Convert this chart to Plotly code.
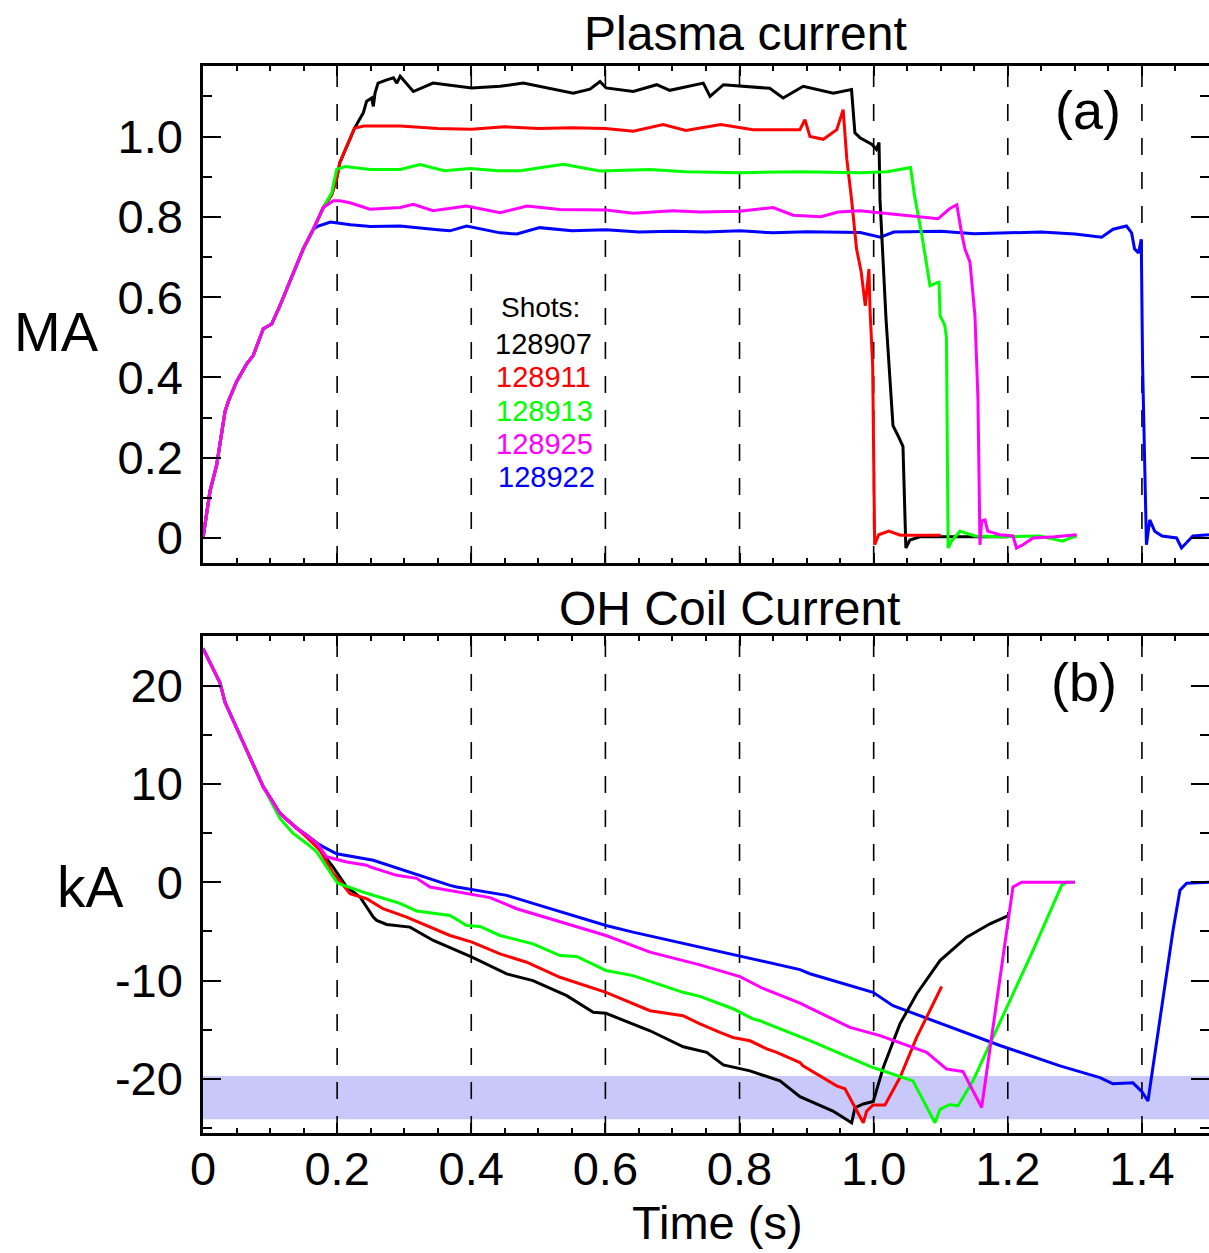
import plotly.graph_objects as go

# ---------------- DATA ----------------
# Plasma current (MA) - common ramp-up shared by all shots
ip_ramp_t = [0, 0.0104, 0.0204, 0.0328, 0.0377, 0.0502, 0.0652, 0.075, 0.0899, 0.1024, 0.1148, 0.1346, 0.1495, 0.1645]
ip_ramp_v = [0, 0.116, 0.182, 0.315, 0.34, 0.39, 0.434, 0.455, 0.521, 0.533, 0.579, 0.662, 0.72, 0.769]

ip_t_128907 = ip_ramp_t + [0.1794, 0.1919, 0.1993, 0.204, 0.219, 0.226, 0.239, 0.244, 0.2515, 0.254, 0.2565, 0.261, 0.274, 0.284, 0.289, 0.294,
                           0.3136, 0.343, 0.4006, 0.443, 0.4776, 0.517, 0.552, 0.577, 0.592, 0.601, 0.6416, 0.6765, 0.696, 0.746, 0.756, 0.776,
                           0.8107, 0.845, 0.865, 0.895, 0.9398, 0.967, 0.972, 0.9796, 0.9975, 1.004, 1.008, 1.0094, 1.0184, 1.0288, 1.036,
                           1.0437, 1.048, 1.054, 1.069, 1.15, 1.2]
ip_v_128907 = ip_ramp_v + [0.823, 0.855, 0.895, 0.935, 0.993, 1.021, 1.059, 1.088, 1.096, 1.075, 1.108, 1.133, 1.141, 1.146, 1.133, 1.15,
                           1.112, 1.133, 1.121, 1.125, 1.133, 1.12, 1.108, 1.118, 1.137, 1.121, 1.112, 1.129, 1.115, 1.133, 1.1, 1.129,
                           1.125, 1.12, 1.096, 1.125, 1.108, 1.117, 1.009, 0.997, 0.98, 0.968, 0.985, 0.844, 0.546, 0.28, 0.256,
                           0.228, -0.025, -0.005, 0.003, 0.003, 0.003]

ip_t_128911 = ip_ramp_t + [0.1794, 0.1919, 0.1993, 0.204, 0.219, 0.226, 0.24, 0.294, 0.35, 0.40, 0.45, 0.5, 0.55, 0.6, 0.6416, 0.686, 0.72,
                           0.772, 0.82, 0.89, 0.8975, 0.905, 0.925, 0.945, 0.9545, 0.960, 0.967, 0.9745, 0.9815, 0.9875, 0.993, 0.9945,
                           0.9985, 1.0015, 1.0075, 1.0225, 1.04, 1.1]
ip_v_128911 = ip_ramp_v + [0.823, 0.855, 0.895, 0.935, 0.993, 1.021, 1.026, 1.026, 1.02, 1.018, 1.024, 1.02, 1.022, 1.02, 1.013, 1.03, 1.015,
                           1.03, 1.017, 1.017, 1.042, 1.0, 0.993, 1.017, 1.067, 0.943, 0.844, 0.72, 0.662, 0.578, 0.67, 0.571,
                           0.43, -0.017, 0.008, 0.017, 0.007, 0.007]

ip_t_128913 = ip_ramp_t + [0.1794, 0.1919, 0.1993, 0.212, 0.25, 0.294, 0.3235, 0.36, 0.398, 0.44, 0.473, 0.537, 0.592, 0.6665, 0.72, 0.8007,
                           0.89, 0.98, 1.02, 1.055, 1.061, 1.072, 1.084, 1.096, 1.0975, 1.099, 1.106, 1.1085, 1.111, 1.116, 1.1287, 1.151,
                           1.188, 1.248, 1.282, 1.293, 1.3027]
ip_v_128913 = ip_ramp_v + [0.823, 0.86, 0.918, 0.925, 0.918, 0.918, 0.93, 0.915, 0.92, 0.915, 0.915, 0.931, 0.914, 0.918, 0.912, 0.91,
                           0.912, 0.91, 0.912, 0.923, 0.852, 0.753, 0.628, 0.637, 0.637, 0.554, 0.53, 0.50, -0.025, -0.008, 0.017, 0.005,
                           0.003, 0.005, -0.008, 0.0, 0.005]

ip_t_128925 = ip_ramp_t + [0.177, 0.1794, 0.1943, 0.204, 0.219, 0.249, 0.294, 0.3136, 0.343, 0.393, 0.443, 0.483, 0.532, 0.601, 0.6416, 0.70,
                           0.741, 0.80, 0.850, 0.880, 0.9215, 0.9468, 0.9796, 1.039, 1.096, 1.113, 1.124, 1.131, 1.136, 1.1436, 1.151,
                           1.1555, 1.1585, 1.161, 1.166, 1.170, 1.188, 1.2077, 1.213, 1.2226, 1.2375, 1.27, 1.3027]
ip_v_128925 = ip_ramp_v + [0.815, 0.823, 0.84, 0.84, 0.835, 0.819, 0.823, 0.831, 0.815, 0.827, 0.81, 0.827, 0.818, 0.817, 0.809, 0.815,
                           0.812, 0.814, 0.823, 0.804, 0.80, 0.812, 0.815, 0.805, 0.795, 0.82, 0.83, 0.76, 0.72, 0.687, 0.554,
                           0.347, -0.017, 0.042, 0.045, 0.017, 0.008, 0.005, -0.025, -0.017, 0, 0.003, 0.008]

ip_t_128922 = ip_ramp_t + [0.1719, 0.19, 0.22, 0.25, 0.294, 0.35, 0.368, 0.393, 0.443, 0.468, 0.502, 0.55, 0.601, 0.65, 0.7, 0.75, 0.8007,
                           0.85, 0.9, 0.98, 1.01, 1.03, 1.1, 1.15, 1.2, 1.25, 1.3, 1.34, 1.357, 1.377, 1.3846, 1.389, 1.395, 1.399, 1.401,
                           1.4067, 1.4117, 1.419, 1.43, 1.4517, 1.459, 1.476, 1.5]
ip_v_128922 = ip_ramp_v + [0.777, 0.787, 0.78, 0.776, 0.777, 0.768, 0.765, 0.777, 0.76, 0.757, 0.773, 0.765, 0.768, 0.762, 0.764, 0.762, 0.765,
                           0.76, 0.763, 0.761, 0.749, 0.762, 0.764, 0.758, 0.76, 0.762, 0.757, 0.749, 0.769, 0.777, 0.76, 0.72, 0.71, 0.744, 0.43,
                           -0.017, 0.045, 0.017, 0.005, 0, -0.025, 0.005, 0.008]

# OH coil current (kA) - common early decay
oh_start_t = [0, 0.0253, 0.0328, 0.0652, 0.0899, 0.1148, 0.1397, 0.1546, 0.1695]
oh_start_v = [23.8, 20.3, 18.3, 13.5, 9.7, 7.0, 5.5, 4.8, 4.0]

oh_t_128907 = oh_start_t + [0.1744, 0.1938, 0.2143, 0.2341, 0.2539, 0.2590, 0.2739, 0.3086, 0.3434, 0.4011, 0.4528, 0.4920, 0.5423, 0.5819,
                            0.6009, 0.6665, 0.7161, 0.7410, 0.7510, 0.7758, 0.8007, 0.8156, 0.8603, 0.8901, 0.9393, 0.9672, 0.9721,
                            0.9845, 0.9994, 1.0143, 1.0392, 1.0641, 1.0989, 1.1387, 1.1734, 1.2017]
oh_v_128907 = oh_start_v + [3.27, 1.56, -0.48, -1.5, -3.54, -3.88, -4.29, -4.56, -5.92, -7.62, -9.32, -10.0, -11.53, -13.23,
                            -13.33, -15.1, -16.73, -17.14, -17.3, -18.57, -19.0, -19.18, -20.2, -21.8, -23.27, -24.46, -22.93,
                            -22.55, -22.3, -18.84, -14.4, -11.36, -7.96, -5.58, -4.22, -3.37]

oh_t_128911 = oh_start_t[:7] + [0.1546, 0.1744, 0.1938, 0.1993, 0.2192, 0.2441, 0.2684, 0.3037, 0.3683, 0.4011, 0.4428, 0.4826, 0.5323,
                                0.6009, 0.6665, 0.7157, 0.7410, 0.7708, 0.7902, 0.8156, 0.8405, 0.8554, 0.8901, 0.8946, 0.9448, 0.9572,
                                0.9845, 0.9896, 0.9990, 1.0169, 1.0392, 1.0641, 1.1014]
oh_v_128911 = oh_start_v[:7] + [4.6, 3.27, 0.9, 0.54, -1.16, -1.67, -2.69, -3.54, -5.41, -6.09, -7.28, -8.13, -9.66,
                                -11.19, -13.06, -13.57, -14.39, -15.27, -15.78, -16.12, -16.94, -17.3, -18.33, -18.67, -20.7, -21.0,
                                -24.46, -23.27, -22.65, -22.65, -19.86, -15.78, -10.6]

oh_t_128913 = oh_start_t[:5] + [0.1148, 0.1340, 0.1546, 0.1695, 0.1844, 0.2008, 0.2441, 0.2937, 0.3186, 0.3683, 0.3932, 0.4130, 0.4428,
                                0.4920, 0.5323, 0.5572, 0.6009, 0.6411, 0.7157, 0.7410, 0.7902, 0.8200, 0.8305, 0.8901, 0.9050, 0.9990,
                                1.0586, 1.0914, 1.0989, 1.1138, 1.1257, 1.1481, 1.1779, 1.2375, 1.2803, 1.2878, 1.3001]
oh_v_128913 = oh_start_v[:5] + [6.5, 5.0, 3.95, 3.1, 1.56, -0.1, -1.12, -2.14, -2.93, -3.37, -4.39, -4.49, -5.41,
                                -6.26, -7.45, -7.55, -8.98, -9.49, -11.19, -11.6, -12.86, -13.9, -14.08, -15.71, -16.1, -18.84,
                                -20.2, -24.46, -23.1, -22.6, -22.75, -20.2, -15.78, -6.94, -0.31, 0, 0]

oh_t_128925 = oh_start_t + [0.1844, 0.2143, 0.2441, 0.2490, 0.2888, 0.3186, 0.3385, 0.3534, 0.4011, 0.4279, 0.4677, 0.5423, 0.6009,
                            0.6665, 0.7410, 0.8007, 0.8350, 0.8901, 0.9647, 1.0094, 1.0790, 1.1088, 1.1332, 1.1610, 1.2077, 1.2207, 1.3001]
oh_v_128925 = oh_start_v + [2.59, 2.07, 1.73, 1.56, 0.71, 0.4, -0.48, -0.65, -1.23, -1.56, -2.69, -4.2, -5.41,
                            -7.1, -8.4, -9.6, -10.8, -12.3, -14.76, -15.6, -17.3, -19.0, -19.25, -22.9, -0.47, 0, 0]

oh_t_128922 = oh_start_t + [0.1794, 0.1993, 0.2539, 0.3136, 0.3683, 0.3783, 0.4011, 0.4528, 0.4920, 0.5666, 0.6009, 0.6411, 0.7410,
                            0.8007, 0.8901, 0.9050, 0.9990, 1.0288, 1.0884, 1.1883, 1.2778, 1.3374, 1.3568, 1.3866, 1.40, 1.4090,
                            1.4463, 1.4567, 1.4667, 1.5]
oh_v_128922 = oh_start_v + [3.6, 2.9, 2.24, 0.88, -0.31, -0.48, -0.72, -1.33, -2.14, -3.67, -4.39, -5.07, -6.6,
                            -7.5, -8.88, -9.3, -11.19, -12.55, -14.08, -16.6, -18.67, -19.86, -20.5, -20.4, -21.3, -22.24,
                            -4.9, -0.8, -0.1, 0]

shots = ["128907", "128911", "128913", "128925", "128922"]
shot_colors = {"128907": "#000000", "128911": "#ff0000", "128913": "#00ff00", "128925": "#ff00ff", "128922": "#0000ff"}
ip_data = {"128907": (ip_t_128907, ip_v_128907), "128911": (ip_t_128911, ip_v_128911), "128913": (ip_t_128913, ip_v_128913),
           "128925": (ip_t_128925, ip_v_128925), "128922": (ip_t_128922, ip_v_128922)}
oh_data = {"128907": (oh_t_128907, oh_v_128907), "128911": (oh_t_128911, oh_v_128911), "128913": (oh_t_128913, oh_v_128913),
           "128925": (oh_t_128925, oh_v_128925), "128922": (oh_t_128922, oh_v_128922)}
draw_order = ["128922", "128907", "128911", "128913", "128925"]

ref_times = [0.2, 0.4, 0.6, 0.8, 1.0, 1.2, 1.4]
band_kA = (-24.1, -19.7)

x_ticks = [0, 0.2, 0.4, 0.6, 0.8, 1.0, 1.2, 1.4]
x_ticktext = ["0", "0.2", "0.4", "0.6", "0.8", "1.0", "1.2", "1.4"]
x_minor = [0.05, 0.1, 0.15, 0.25, 0.3, 0.35, 0.45, 0.5, 0.55, 0.65, 0.7, 0.75, 0.85, 0.9, 0.95, 1.05, 1.1, 1.15, 1.25, 1.3, 1.35, 1.45]
ip_ticks = [0, 0.2, 0.4, 0.6, 0.8, 1.0]
ip_ticktext = ["0", "0.2", "0.4", "0.6", "0.8", "1.0"]
ip_minor = [0.1, 0.3, 0.5, 0.7, 0.9, 1.1]
oh_ticks = [-20, -10, 0, 10, 20]
oh_ticktext = ["-20", "-10", "0", "10", "20"]
oh_minor = [-25, -15, -5, 5, 15, 25]

# ---------------- FIGURE ----------------
W, H = 1209, 1253
FONT = "Liberation Sans, Arial, Helvetica, sans-serif"


def px(xp):
    return xp / W


def py(yp):
    return 1 - yp / H


fig = go.Figure()
for s in draw_order:
    t, v = ip_data[s]
    fig.add_trace(go.Scatter(x=t, y=v, mode="lines", line=dict(color=shot_colors[s], width=3),
                             xaxis="x", yaxis="y", showlegend=False, hoverinfo="skip"))
for s in draw_order:
    t, v = oh_data[s]
    fig.add_trace(go.Scatter(x=t, y=v, mode="lines", line=dict(color=shot_colors[s], width=3),
                             xaxis="x2", yaxis="y2", showlegend=False, hoverinfo="skip"))

# shaded band in OH panel
fig.add_shape(type="rect", xref="x2 domain", yref="y2", x0=0, x1=1, y0=band_kA[0], y1=band_kA[1],
              fillcolor="#c8c8fa", line=dict(width=0), layer="below")
# dashed reference lines
for xa, ya in (("x", "y"), ("x2", "y2")):
    for tv in ref_times:
        fig.add_shape(type="line", xref=xa, yref=ya + " domain", x0=tv, x1=tv, y0=0, y1=1,
                      line=dict(color="black", width=1.6, dash="17px,17px"), layer="below")

xdom = [px(203), 1.0]
axis_common = dict(showgrid=False, zeroline=False, showline=True, linecolor="black", linewidth=2.5,
                   ticks="inside", tickcolor="black", tickwidth=2, mirror="allticks", automargin=False,
                   tickfont=dict(family=FONT, size=47, color="black"))

fig.update_layout(
    width=W, height=H, margin=dict(l=0, r=0, t=0, b=0, pad=0, autoexpand=False),
    paper_bgcolor="white", plot_bgcolor="white", showlegend=False,
    xaxis=dict(domain=xdom, anchor="y", range=[0, 1.5], tickmode="array", tickvals=x_ticks, ticktext=x_ticktext,
               showticklabels=False, ticklen=10,
               minor=dict(tickmode="array", tickvals=x_minor, ticklen=5, ticks="inside", tickcolor="black", tickwidth=2),
               **axis_common),
    yaxis=dict(domain=[py(563), py(66)], anchor="x", range=[-0.0623, 1.1756], tickmode="array", tickvals=ip_ticks,
               ticktext=ip_ticktext, ticklen=18, ticklabelstandoff=8,
               minor=dict(tickmode="array", tickvals=ip_minor, ticklen=9, ticks="inside", tickcolor="black", tickwidth=2),
               **axis_common),
    xaxis2=dict(domain=xdom, anchor="y2", range=[0, 1.5], tickmode="array", tickvals=x_ticks, ticktext=x_ticktext,
                ticklen=10, ticklabelstandoff=-7,
                minor=dict(tickmode="array", tickvals=x_minor, ticklen=5, ticks="inside", tickcolor="black", tickwidth=2),
                **axis_common),
    yaxis2=dict(domain=[py(1133), py(636)], anchor="x2", range=[-25.5, 25.05], tickmode="array", tickvals=oh_ticks,
                ticktext=oh_ticktext, ticklen=18, ticklabelstandoff=8,
                minor=dict(tickmode="array", tickvals=oh_minor, ticklen=9, ticks="inside", tickcolor="black", tickwidth=2),
                **axis_common),
)

ann = []


def text(x, y, s, size, color="black"):
    ann.append(dict(x=px(x), y=py(y), xref="paper", yref="paper", text=s, showarrow=False,
                    xanchor="center", yanchor="middle", font=dict(family=FONT, size=size, color=color)))


text(745, 33, "Plasma current", 48)
text(729, 608, "OH Coil Current", 48)
text(1088, 110, "(a)", 54)
text(1084, 682, "(b)", 54)
text(56, 331, "MA", 56)
text(90, 887, "kA", 57)
text(717, 1222, "Time (s)", 47)
text(540, 308, "Shots:", 28)
leg_y = [344, 377, 411, 444, 477]
leg_x = [543, 543, 544, 544, 546]
for s, yy, xx in zip(shots, leg_y, leg_x):
    text(xx, yy, s, 29, shot_colors[s])

fig.update_layout(annotations=ann)
fig.write_html("out.html", config={"displayModeBar": False},
               post_script="document.body.style.margin='0px';document.body.style.overflow='hidden';")
